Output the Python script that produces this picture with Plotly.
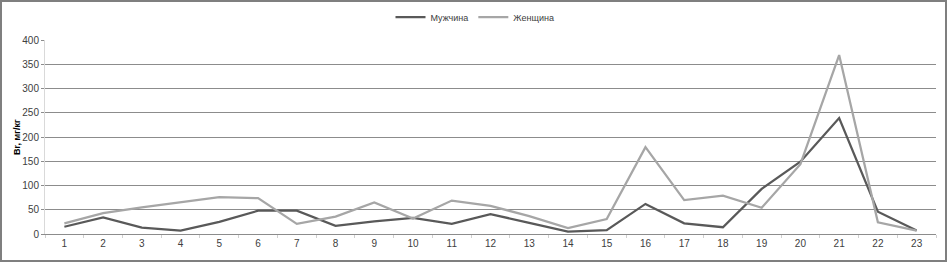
import plotly.graph_objects as go

categories = [str(i) for i in range(1, 24)]
men = [15, 34, 13, 7, 25, 48, 48, 17, 26, 33, 21, 41, 23, 5, 8, 62, 22, 14, 93, 149, 239, 46, 7]
women = [22, 43, 55, 65, 76, 74, 21, 36, 65, 32, 69, 58, 37, 12, 31, 179, 70, 79, 54, 144, 369, 24, 7]
y_ticks = [0, 50, 100, 150, 200, 250, 300, 350, 400]

FONT = "Liberation Sans Narrow, Arial Narrow, Liberation Sans, sans-serif"

fig = go.Figure()
fig.add_trace(go.Scatter(x=categories, y=men, mode="lines", name="Мужчина",
                         line=dict(color="#595959", width=2.25)))
fig.add_trace(go.Scatter(x=categories, y=women, mode="lines", name="Женщина",
                         line=dict(color="#A6A6A6", width=2.25)))

L, R, T, B = 45, 12, 40, 29
W, H = 948, 263
pw = W - L - R
ph = H - T - B

fig.update_layout(
    width=W, height=H,
    margin=dict(l=L, r=R, t=T, b=B, autoexpand=False),
    paper_bgcolor="white", plot_bgcolor="white",
    font=dict(family=FONT, size=10, color="#404040"),
    showlegend=True,
    legend=dict(orientation="h", x=(475 - L) / pw, xanchor="center",
                y=(H - B - 17) / ph, yanchor="middle",
                font=dict(size=9, color="#404040"), itemwidth=30,
                bgcolor="rgba(0,0,0,0)"),
    xaxis=dict(type="category", range=[-0.5, len(categories) - 0.5], showgrid=False,
               ticks="outside", tickson="boundaries",
               ticklen=3, tickcolor="#D0D0D0", showline=True, linecolor="#8C8C8C",
               linewidth=1, tickfont=dict(size=10, color="#404040"), fixedrange=True),
    yaxis=dict(range=[0, 400], tickvals=y_ticks, showgrid=True, gridcolor="#8C8C8C",
               gridwidth=1, showline=True, linecolor="#D9D9D9", ticks="outside",
               ticklen=3, tickcolor="#8C8C8C", zeroline=False,
               tickfont=dict(size=10, color="#404040"), fixedrange=True),
    annotations=[dict(text="<b>Br, мг/кг</b>", xref="paper", yref="paper",
                      x=(17 - L) / pw, y=0.5, textangle=-90, showarrow=False,
                      xanchor="center", yanchor="middle",
                      font=dict(size=9, color="#000000"))],
    shapes=[dict(type="rect", xref="paper", yref="paper",
                 x0=(1 - L) / pw, x1=(946 - L) / pw,
                 y0=(H - B - 261) / ph, y1=(H - B - 1) / ph,
                 line=dict(color="#7F7F7F", width=2), layer="below")],
)

fig.write_html("out.html", config={"displayModeBar": False},
               post_script="document.body.style.margin='0';document.body.style.overflow='hidden';")
